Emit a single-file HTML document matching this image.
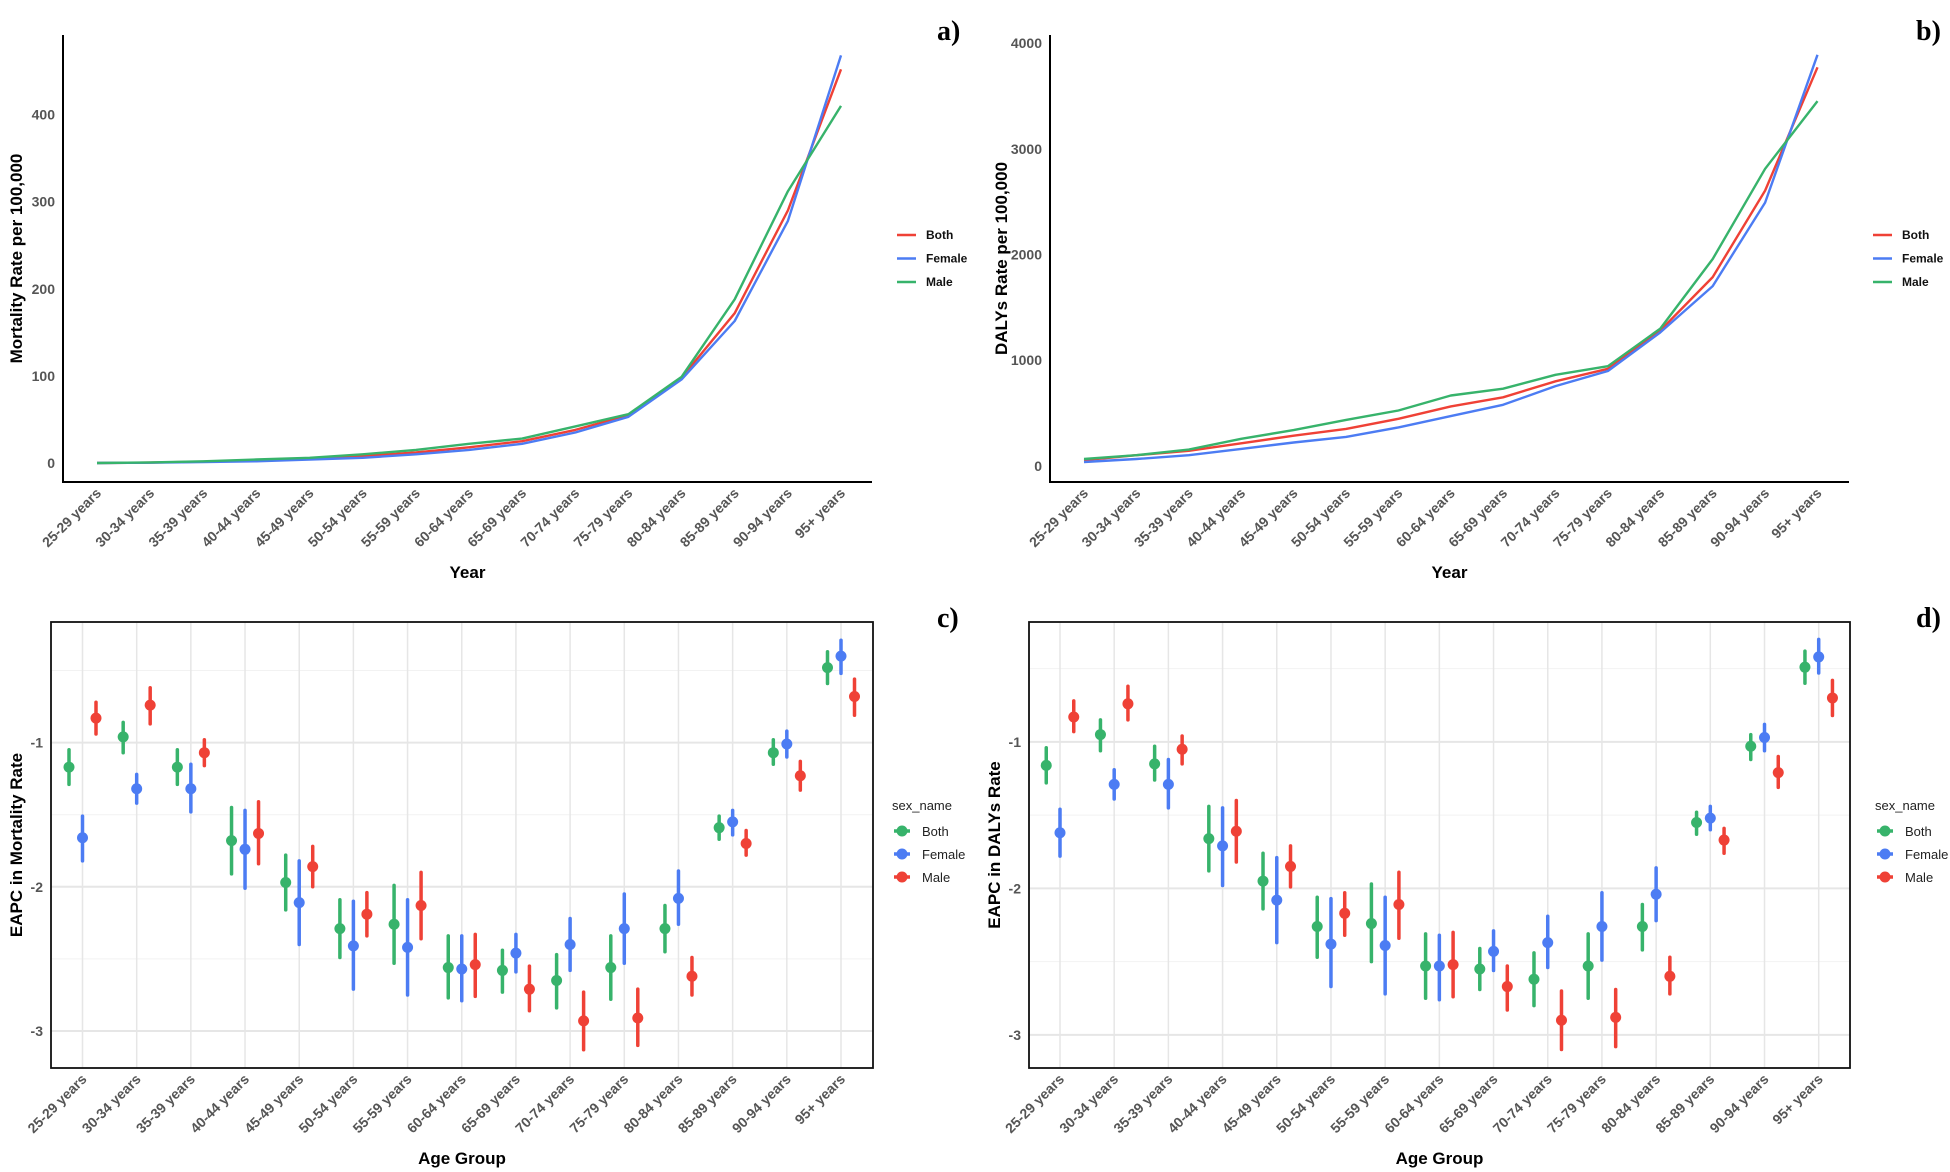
<!DOCTYPE html>
<html><head><meta charset="utf-8"><style>
html,body{margin:0;padding:0;background:#fff}
svg{display:block}
text{font-family:"Liberation Sans",sans-serif}
.tick{font-size:14px;font-weight:bold;fill:#555}
.ttl{font-size:17px;font-weight:bold;fill:#000}
.lett{font-family:"Liberation Serif",serif;font-size:28px;font-weight:bold;fill:#000}
.leg{font-size:12px;font-weight:bold;fill:#111}
.leg2{font-size:13px;fill:#222}
</style></head><body>
<svg id="fig" width="1950" height="1172" viewBox="0 0 1950 1172" xmlns="http://www.w3.org/2000/svg"></svg>
<script>
const categories = ["25-29 years","30-34 years","35-39 years","40-44 years","45-49 years","50-54 years","55-59 years","60-64 years","65-69 years","70-74 years","75-79 years","80-84 years","85-89 years","90-94 years","95+ years"];
const sexes = ["Both","Female","Male"];
// Panel a: mortality rate
const mortBoth   = [0,0.5,1.5,3,5,8,12,18,25,38,55,98,172,290,452];
const mortFemale = [0,0.3,1,2,4,6,10,15,22,35,53,96,163,278,468];
const mortMale   = [0,0.7,2,4,6,10,15,22,28,42,56,99,188,312,410];
const mortTicks  = [0,100,200,300,400];
// Panel b: DALYs rate
const dalyBoth   = [53,100,142,213,285,349,445,562,648,800,918,1281,1786,2605,3772];
const dalyFemale = [36,64,100,160,221,274,363,470,577,754,897,1263,1701,2491,3890];
const dalyMale   = [64,100,153,256,338,434,523,665,730,861,943,1299,1957,2811,3452];
const dalyTicks  = [0,1000,2000,3000,4000];
// Panel c: EAPC mortality
const eapcMortBoth   = [-1.17,-0.96,-1.17,-1.68,-1.97,-2.29,-2.26,-2.56,-2.58,-2.65,-2.56,-2.29,-1.59,-1.07,-0.48];
const eapcMortBothLo = [-1.29,-1.07,-1.29,-1.91,-2.16,-2.49,-2.53,-2.77,-2.73,-2.84,-2.78,-2.45,-1.67,-1.15,-0.59];
const eapcMortBothHi = [-1.05,-0.86,-1.05,-1.45,-1.78,-2.09,-1.99,-2.34,-2.44,-2.47,-2.34,-2.13,-1.51,-0.98,-0.37];
const eapcMortFem    = [-1.66,-1.32,-1.32,-1.74,-2.11,-2.41,-2.42,-2.57,-2.46,-2.40,-2.29,-2.08,-1.55,-1.01,-0.40];
const eapcMortFemLo  = [-1.82,-1.42,-1.48,-2.01,-2.40,-2.71,-2.75,-2.79,-2.59,-2.58,-2.53,-2.26,-1.64,-1.10,-0.52];
const eapcMortFemHi  = [-1.51,-1.22,-1.15,-1.47,-1.82,-2.10,-2.09,-2.34,-2.33,-2.22,-2.05,-1.89,-1.47,-0.92,-0.29];
const eapcMortMale   = [-0.83,-0.74,-1.07,-1.63,-1.86,-2.19,-2.13,-2.54,-2.71,-2.93,-2.91,-2.62,-1.70,-1.23,-0.68];
const eapcMortMaleLo = [-0.94,-0.87,-1.16,-1.84,-2.00,-2.34,-2.36,-2.76,-2.86,-3.13,-3.10,-2.75,-1.78,-1.33,-0.81];
const eapcMortMaleHi = [-0.72,-0.62,-0.98,-1.41,-1.72,-2.04,-1.90,-2.33,-2.55,-2.73,-2.71,-2.49,-1.61,-1.13,-0.56];
// Panel d: EAPC DALYs
const eapcDalyBoth   = [-1.16,-0.95,-1.15,-1.66,-1.95,-2.26,-2.24,-2.53,-2.55,-2.62,-2.53,-2.26,-1.55,-1.03,-0.49];
const eapcDalyBothLo = [-1.28,-1.06,-1.26,-1.88,-2.14,-2.47,-2.50,-2.75,-2.69,-2.80,-2.75,-2.42,-1.63,-1.12,-0.60];
const eapcDalyBothHi = [-1.04,-0.85,-1.03,-1.44,-1.76,-2.06,-1.97,-2.31,-2.41,-2.44,-2.31,-2.11,-1.48,-0.95,-0.38];
const eapcDalyFem    = [-1.62,-1.29,-1.29,-1.71,-2.08,-2.38,-2.39,-2.53,-2.43,-2.37,-2.26,-2.04,-1.52,-0.97,-0.42];
const eapcDalyFemLo  = [-1.78,-1.39,-1.45,-1.98,-2.37,-2.67,-2.72,-2.76,-2.56,-2.54,-2.49,-2.22,-1.60,-1.06,-0.53];
const eapcDalyFemHi  = [-1.46,-1.19,-1.12,-1.45,-1.79,-2.07,-2.06,-2.32,-2.29,-2.19,-2.03,-1.86,-1.44,-0.88,-0.30];
const eapcDalyMale   = [-0.83,-0.74,-1.05,-1.61,-1.85,-2.17,-2.11,-2.52,-2.67,-2.90,-2.88,-2.60,-1.67,-1.21,-0.70];
const eapcDalyMaleLo = [-0.93,-0.85,-1.15,-1.82,-1.99,-2.32,-2.34,-2.74,-2.83,-3.10,-3.08,-2.72,-1.76,-1.31,-0.82];
const eapcDalyMaleHi = [-0.72,-0.62,-0.96,-1.40,-1.71,-2.03,-1.89,-2.30,-2.53,-2.70,-2.69,-2.47,-1.59,-1.10,-0.58];
const eapcTicks = [-1,-2,-3];
const eapcMinor = [-0.5,-1.5,-2.5];

const COL = {Both:"#37B36B", Female:"#4C7CF3", Male:"#EF4136"};
const LCOL = {Both:"#EF4136", Female:"#4C7CF3", Male:"#37B36B"};
const NS = "http://www.w3.org/2000/svg";
const svg = document.getElementById('fig');
function mk(tag, attrs, parent, txt){
  const e = document.createElementNS(NS, tag);
  for (const k in attrs) e.setAttribute(k, attrs[k]);
  if (txt !== undefined) e.textContent = txt;
  (parent||svg).appendChild(e);
  return e;
}
function lin(d0,d1,r0,r1){return v => r0 + (v-d0)/(d1-d0)*(r1-r0);}
function kebab(s){return s.toLowerCase().replace(/[^a-z0-9]+/g,'-').replace(/^-|-$/g,'');}

function xLabels(g, x, yTop, pre){
  categories.forEach((c,i)=>{
    const px = x(i)+5, py = yTop+12;
    const t = mk('text',{class:'tick','text-anchor':'end',transform:`translate(${px},${py}) rotate(-45)`},g,c);
    
    
  });
}

function linePanel(o){
  const g = mk('g',{});
  
  
  const x = i => o.x0 + i*(o.x1-o.x0)/(categories.length-1);
  const y = lin(o.d0,o.d1,o.r0,o.r1);
  o.ticks.forEach(v=>{
    const t = mk('text',{class:'tick','text-anchor':'end',x:o.axL-8,y:y(v)+5},g,String(v));
    
    
  });
  const series = [["Both",o.both],["Female",o.female],["Male",o.male]];
  series.forEach(([s,arr])=>{
    const p = mk('polyline',{points:arr.map((v,i)=>x(i).toFixed(1)+','+y(v).toFixed(1)).join(' '),fill:'none',stroke:LCOL[s],'stroke-width':2.4,'stroke-linejoin':'round'},g);
    
    
  });
  const ax = mk('path',{d:`M${o.axL},${o.axT} L${o.axL},${o.axB} L${o.axR},${o.axB}`,fill:'none',stroke:'#000','stroke-width':2},g);
  
  
  xLabels(g,x,o.axB,o.pre);
  const yt = mk('text',{class:'ttl','text-anchor':'middle',transform:`translate(${o.ytX},${(o.axT+o.axB)/2}) rotate(-90)`},g,o.ytitle);
  
  
  const xt = mk('text',{class:'ttl','text-anchor':'middle',x:(o.axL+o.axR)/2,y:578},g,'Year');
  
  
  const lg = mk('g',{},g);
  
  
  sexes.forEach((s,i)=>{
    const yy = 235 + i*23.5;
    const l = mk('line',{x1:o.legX,x2:o.legX+19,y1:yy,y2:yy,stroke:LCOL[s],'stroke-width':2.4},lg);
    
    
    const t = mk('text',{class:'leg',x:o.legX+29,y:yy+4},lg,s);
    
    
  });
  const L = mk('text',{class:'lett',x:o.letX,y:40},g,o.letter);
  
  
}

function dotPanel(o){
  const g = mk('g',{});
  
  
  const x = i => o.x0 + i*(o.x1-o.x0)/(categories.length-1);
  const y = lin(o.d0,o.d1,o.r0,o.r1);
  eapcMinor.forEach(v=>{
    const l = mk('line',{x1:o.bL,x2:o.bR,y1:y(v),y2:y(v),stroke:'#f2f2f2','stroke-width':1},g);
    
    
  });
  eapcTicks.forEach(v=>{
    const l = mk('line',{x1:o.bL,x2:o.bR,y1:y(v),y2:y(v),stroke:'#e6e6e6','stroke-width':2},g);
    
    
    const t = mk('text',{class:'tick','text-anchor':'end',x:o.bL-8,y:y(v)+5},g,String(v));
    
    
  });
  categories.forEach((c,i)=>{
    const l = mk('line',{x1:x(i),x2:x(i),y1:o.bT,y2:o.bB,stroke:'#e6e6e6','stroke-width':1.5},g);
    
    
  });
  const series = [["Both",o.b,o.bLo,o.bHi,-1],["Female",o.f,o.fLo,o.fHi,0],["Male",o.m,o.mLo,o.mHi,1]];
  series.forEach(([s,v,lo,hi,off])=>{
    const sg = mk('g',{},g);
    
    
    v.forEach((val,i)=>{
      const cx = x(i)+off*o.dodge;
      const l = mk('line',{x1:cx,x2:cx,y1:y(lo[i]),y2:y(hi[i]),stroke:COL[s],'stroke-width':3.5,'stroke-linecap':'round'},sg);
      
      
      const p = mk('circle',{cx:cx,cy:y(val),r:5.5,fill:COL[s]},sg);
      
      
    });
  });
  const box = mk('rect',{x:o.bL,y:o.bT,width:o.bR-o.bL,height:o.bB-o.bT,fill:'none',stroke:'#111','stroke-width':1.8},g);
  
  
  xLabels(g,x,o.bB,o.pre);
  const yt = mk('text',{class:'ttl','text-anchor':'middle',transform:`translate(${o.ytX},${(o.bT+o.bB)/2}) rotate(-90)`},g,o.ytitle);
  
  
  const xt = mk('text',{class:'ttl','text-anchor':'middle',x:(o.bL+o.bR)/2,y:1164},g,'Age Group');
  
  
  const lg = mk('g',{},g);
  
  
  const lt = mk('text',{class:'leg2',x:o.legX-10,y:810,'font-size':'14px'},lg,'sex_name');
  
  
  sexes.forEach((s,i)=>{
    const yy = 831 + i*23;
    const l = mk('line',{x1:o.legX-8,x2:o.legX+8,y1:yy,y2:yy,stroke:COL[s],'stroke-width':3.5},lg);
    
    
    const c = mk('circle',{cx:o.legX,cy:yy,r:5.5,fill:COL[s]},lg);
    
    
    const t = mk('text',{class:'leg2',x:o.legX+20,y:yy+5},lg,s);
    
    
  });
  const L = mk('text',{class:'lett',x:o.letX,y:627},g,o.letter);
  
  
}

linePanel({name:'panel-a-mortality-chart',pre:'a',x0:97,x1:841,d0:0,d1:400,r0:463,r1:114.6,axL:63,axT:35,axB:482,axR:872,ytX:22,
  both:mortBoth,female:mortFemale,male:mortMale,ticks:mortTicks,ytitle:'Mortality Rate per 100,000',legX:897,letX:937,letter:'a)'});
linePanel({name:'panel-b-dalys-chart',pre:'b',x0:1084,x1:1817.5,d0:0,d1:4000,r0:465.8,r1:43.2,axL:1050,axT:35,axB:482,axR:1849,ytX:1007,
  both:dalyBoth,female:dalyFemale,male:dalyMale,ticks:dalyTicks,ytitle:'DALYs Rate per 100,000',legX:1873,letX:1916,letter:'b)'});
dotPanel({name:'panel-c-eapc-mortality-chart',pre:'c',x0:82.5,x1:841,dodge:13.5,d0:-1,d1:-3,r0:742.6,r1:1031,bL:51,bR:873,bT:622,bB:1068,ytX:22,
  b:eapcMortBoth,bLo:eapcMortBothLo,bHi:eapcMortBothHi,f:eapcMortFem,fLo:eapcMortFemLo,fHi:eapcMortFemHi,m:eapcMortMale,mLo:eapcMortMaleLo,mHi:eapcMortMaleHi,
  ytitle:'EAPC in Mortality Rate',legX:902,letX:937,letter:'c)'});
dotPanel({name:'panel-d-eapc-dalys-chart',pre:'d',x0:1060,x1:1818.7,dodge:13.75,d0:-1,d1:-3,r0:741.9,r1:1034.9,bL:1029,bR:1850,bT:622,bB:1068,ytX:1000,
  b:eapcDalyBoth,bLo:eapcDalyBothLo,bHi:eapcDalyBothHi,f:eapcDalyFem,fLo:eapcDalyFemLo,fHi:eapcDalyFemHi,m:eapcDalyMale,mLo:eapcDalyMaleLo,mHi:eapcDalyMaleHi,
  ytitle:'EAPC in DALYs Rate',legX:1885,letX:1916,letter:'d)'});
</script>
</body></html>
